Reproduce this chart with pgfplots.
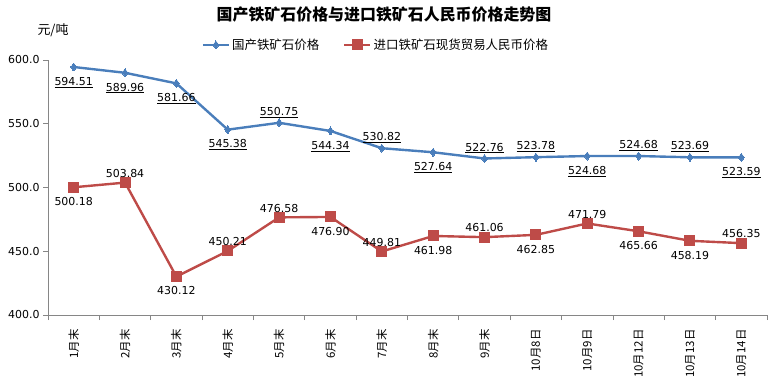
\documentclass[border=0pt]{standalone}
\usepackage{pgfplots}
\pgfplotsset{compat=1.18}
\usepackage{fontspec}
\setmainfont{DejaVu Sans}
\newfontfamily\cjk{Noto Sans CJK SC}
\definecolor{cblue}{HTML}{4A7EBB}
\definecolor{cred}{HTML}{BE4B48}
\definecolor{cgray}{HTML}{868686}

\begin{document}
\begin{tikzpicture}
\path (-48bp,-68bp) rectangle (722bp,315bp);
\begin{axis}[
  at={(0,0)}, anchor=south west,
  scale only axis, width=719bp, height=255bp,
  xmin=-0.5, xmax=13.5, ymin=400, ymax=600,
  axis x line*=bottom, axis y line*=left,
  axis line style={cgray, line width=0.8pt},
  every tick/.style={cgray, line width=0.8pt},
  tick align=outside,
  xtick={0,...,13},
  xticklabels={1月末,2月末,3月末,4月末,5月末,6月末,7月末,8月末,9月末,10月8日,10月9日,10月12日,10月13日,10月14日},
  x tick label style={rotate=90, anchor=east, font=\cjk\fontsize{11.5}{13}\selectfont, xshift=-6bp},
  major x tick style={draw=none},
  minor xtick={-0.5,0.5,...,13.5},
  minor tick length=5bp,
  major tick length=5bp,
  ytick={400,450,...,600},
  y tick label style={font=\fontsize{11}{13}\selectfont},
  /pgf/number format/assume math mode=true,
  yticklabel={\pgfmathprintnumber[fixed,precision=1,zerofill]{\tick}},
  legend style={at={(0.456,1.059)}, anchor=center, draw=none, fill=none,
    font=\cjk\fontsize{12.5}{14}\selectfont, legend columns=2,
    /tikz/every even column/.append style={column sep=22bp}},
  legend image code/.code={
    \draw[#1, mark=none] (0bp,0bp) -- (26bp,0bp);
    \draw[#1, only marks] plot coordinates {(13bp,0bp)};
  },
  clip=false,
  lbl/.style={forget plot, draw=none, mark=none, point meta=explicit symbolic,
    every node near coord/.append style={font=\fontsize{11}{13}\selectfont, inner sep=4bp, black}},
  lblb/.style={lbl, nodes near coords align={below},
    every node near coord/.append style={yshift=-6bp}},
  lbla/.style={lbl, nodes near coords align={above},
    every node near coord/.append style={yshift=1bp}},
]
% domestic
\addplot[color=cblue, line width=2.4pt, mark=diamond*, mark size=4pt, mark options={line width=0pt}]
coordinates {(0,594.51) (1,589.96) (2,581.66) (3,545.38) (4,550.75) (5,544.34) (6,530.82) (7,527.64) (8,522.76) (9,523.78) (10,524.68) (11,524.68) (12,523.69) (13,523.59)};
\addlegendentry{国产铁矿石价格}
% imported
\addplot[color=cred, line width=2.4pt, mark=square*, mark size=5bp, mark options={line width=0pt}]
coordinates {(0,500.18) (1,503.84) (2,430.12) (3,450.21) (4,476.58) (5,476.90) (6,449.81) (7,461.98) (8,461.06) (9,462.85) (10,471.79) (11,465.66) (12,458.19) (13,456.35)};
\addlegendentry{进口铁矿石现货贸易人民币价格}
% labels domestic below
\addplot[lblb, nodes near coords={\underline{\pgfplotspointmeta}}]
coordinates {(0,594.51) [594.51] (1,589.96) [589.96] (2,581.66) [581.66] (3,545.38) [545.38] (5,544.34) [544.34] (7,527.64) [527.64] (10,524.68) [524.68] (13,523.59) [523.59]};
% labels domestic above
\addplot[lbla, nodes near coords={\underline{\pgfplotspointmeta}}]
coordinates {(4,550.75) [550.75] (6,530.82) [530.82] (8,522.76) [522.76] (9,523.78) [523.78] (11,524.68) [524.68] (12,523.69) [523.69]};
% labels imported below
\addplot[lblb, nodes near coords={\pgfplotspointmeta}]
coordinates {(0,500.18) [500.18] (2,430.12) [430.12] (5,476.90) [476.90] (7,461.98) [461.98] (9,462.85) [462.85] (11,465.66) [465.66] (12,458.19) [458.19]};
% labels imported above
\addplot[lbla, nodes near coords={\pgfplotspointmeta}]
coordinates {(1,503.84) [503.84] (3,450.21) [450.21] (4,476.58) [476.58] (6,449.81) [449.81] (8,461.06) [461.06] (10,471.79) [471.79] (13,456.35) [456.35]};
\end{axis}
\node[font=\cjk\bfseries\fontsize{16}{18}\selectfont] at (336bp,300bp) {国产铁矿石价格与进口铁矿石人民币价格走势图};
\node[font=\cjk\fontsize{13}{15}\selectfont] at (5bp,285bp) {元/吨};
\end{tikzpicture}
\end{document}
